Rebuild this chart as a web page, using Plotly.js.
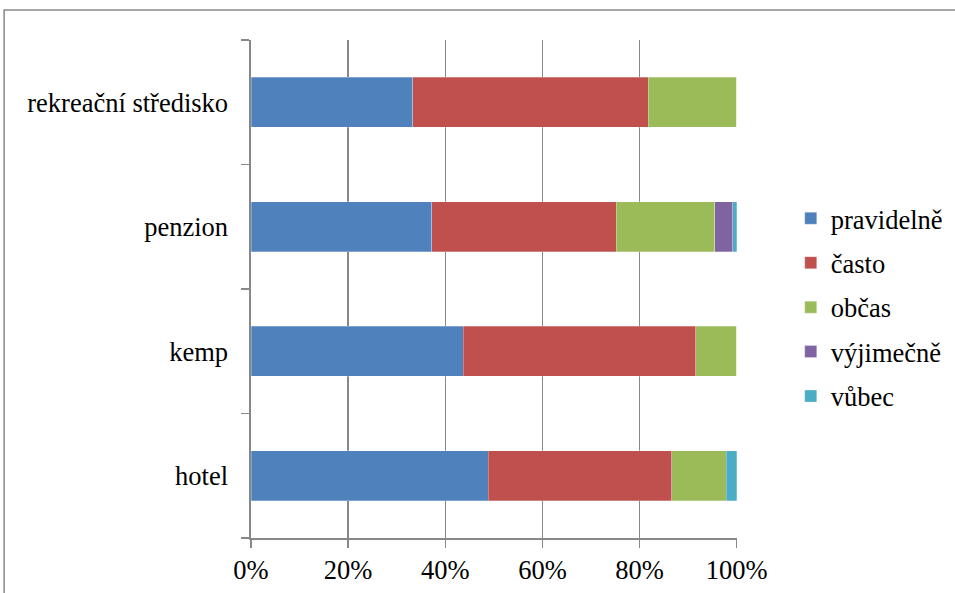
<!DOCTYPE html>
<html>
<head>
<meta charset="utf-8">
<script src="https://cdn.plot.ly/plotly-3.0.1.min.js"></script>
<style>
  html, body { margin: 0; padding: 0; background: #fff; }
  #chart { width: 955px; height: 593px; }
</style>
</head>
<body>
<div id="chart"></div>
<script>
// Accommodation types (bottom to top) and share of answers per frequency, in %
const categories = ['hotel', 'kemp', 'penzion', 'rekreační středisko'];
const seriesNames = ['pravidelně', 'často', 'občas', 'výjimečně', 'vůbec'];
const pravidelne = [48.8, 43.7, 37.2, 33.3];
const casto      = [37.8, 47.9, 38.0, 48.5];
const obcas      = [11.2,  8.4, 20.3, 18.2];
const vyjimecne  = [ 0.0,  0.0,  3.7,  0.0];
const vubec      = [ 2.2,  0.0,  0.8,  0.0];
const xTicks = [0, 20, 40, 60, 80, 100];

const seriesValues = [pravidelne, casto, obcas, vyjimecne, vubec];
const colors = ['#4F81BD', '#C0504D', '#9BBB59', '#8064A2', '#4BACC6'];
const serif = 'Liberation Serif';

const traces = seriesNames.map((name, i) => ({
  type: 'bar',
  orientation: 'h',
  name: name,
  y: categories,
  x: seriesValues[i],
  legendgroup: 'g' + i,
  marker: { color: colors[i], line: { color: 'rgba(255,255,255,0.45)', width: 0.6 } },
  hoverinfo: 'x+y+name'
}));

const layout = {
  width: 955,
  height: 593,
  barmode: 'stack',
  bargap: 0.6,
  paper_bgcolor: '#ffffff',
  plot_bgcolor: '#ffffff',
  margin: { l: 251, r: 218, t: 40, b: 55 },
  font: { family: serif, size: 26.5, color: '#000' },
  xaxis: {
    range: [0, 100.05],
    tickvals: xTicks,
    ticktext: xTicks.map(v => v + '%'),
    showgrid: true,
    gridcolor: '#888888',
    gridwidth: 1.4,
    showline: true,
    linecolor: '#888888',
    linewidth: 1.6,
    ticks: 'outside',
    ticklen: 8,
    tickcolor: '#888888',
    tickwidth: 1.4,
    zeroline: false,
    fixedrange: true,
    tickfont: { family: serif, size: 26.5, color: '#000' }
  },
  yaxis: {
    type: 'category',
    categoryorder: 'array',
    categoryarray: categories,
    showgrid: false,
    showline: true,
    linecolor: '#888888',
    linewidth: 1.6,
    ticks: 'outside',
    tickson: 'boundaries',
    ticklen: 8,
    tickcolor: '#888888',
    tickwidth: 1.4,
    ticklabelstandoff: 16,
    fixedrange: true,
    tickfont: { family: serif, size: 26.5, color: '#000' }
  },
  legend: {
    xref: 'container',
    yref: 'container',
    x: 0.828,
    xanchor: 'left',
    y: 0.4814,
    yanchor: 'middle',
    traceorder: 'grouped',
    tracegroupgap: 7,
    font: { family: serif, size: 26.5, color: '#000' },
    bgcolor: 'rgba(0,0,0,0)'
  },
  shapes: [{
    type: 'rect',
    xref: 'paper', yref: 'paper',
    x0: -0.508, x1: 1.6,
    y0: -0.3, y1: 1.0602,
    line: { color: '#888888', width: 1.5 },
    fillcolor: 'rgba(0,0,0,0)',
    layer: 'below'
  }]
};

Plotly.newPlot('chart', traces, layout, { displayModeBar: false, staticPlot: true });
</script>
</body>
</html>
